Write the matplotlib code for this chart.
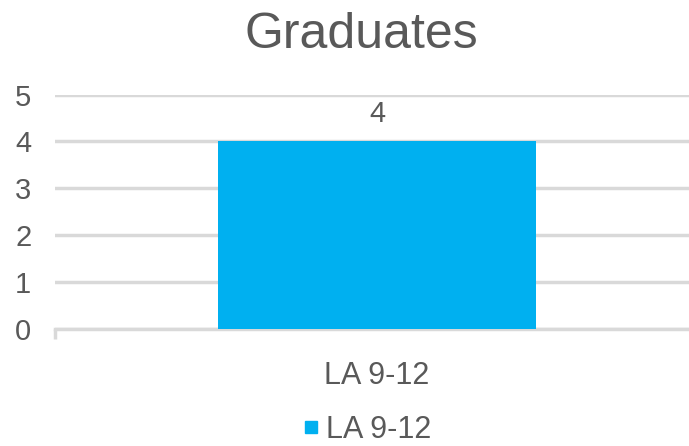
import matplotlib.pyplot as plt
from matplotlib.lines import Line2D

# data
categories = ['LA 9-12']
values = [4]
series_name = 'LA 9-12'
y_ticks = [0, 1, 2, 3, 4, 5]

bar_color = '#00B0F0'
text_gray = '#595959'
grid_gray = '#D9D9D9'

plt.rcParams['font.family'] = ['Liberation Sans', 'DejaVu Sans']

fig = plt.figure(figsize=(6.89, 4.46), dpi=100)
ax = fig.add_axes([0.0798, 0.2623, 0.9347, 0.5257])

x = list(range(len(categories)))
bars = ax.bar(x, values, width=0.495, color=bar_color, zorder=3)
ax.bar_label(bars, labels=[str(v) for v in values], padding=10,
             fontsize=21, color=text_gray)

ax.set_xlim(-0.5, len(categories) - 0.5)
ax.set_ylim(0, 5)
ax.set_yticks(y_ticks)
ax.set_xticks(x)
ax.set_xticklabels(categories)
ax.set_xticks([-0.5, len(categories) - 0.5], minor=True)

ax.yaxis.grid(True, color=grid_gray, linewidth=2.5, zorder=0)
ax.set_axisbelow(True)
for s in ['top', 'right', 'left']:
    ax.spines[s].set_visible(False)
ax.spines['bottom'].set_color(grid_gray)
ax.spines['bottom'].set_linewidth(2.5)

ax.tick_params(axis='y', length=0, pad=17, labelsize=21, labelcolor=text_gray)
ax.tick_params(axis='x', which='major', length=0, pad=23, labelsize=22,
               labelcolor=text_gray)
ax.tick_params(axis='x', which='minor', length=7, width=2.5, color=grid_gray)

fig.text(0.524, 0.922, 'Graduates', ha='center', va='center',
         fontsize=36, color=text_gray)

handle = Line2D([], [], marker='s', linestyle='none', markersize=8,
                color=bar_color)
fig.legend([handle], [series_name], loc='center', bbox_to_anchor=(0.53, 0.036),
           frameon=False, fontsize=22, labelcolor=text_gray,
           handletextpad=0.1, handlelength=0.8)

fig.savefig('out.png', dpi=100)
